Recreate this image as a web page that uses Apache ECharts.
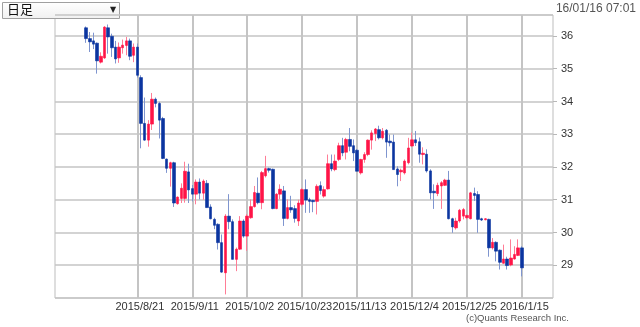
<!DOCTYPE html>
<html>
<head>
<meta charset="utf-8">
<script src="https://cdn.jsdelivr.net/npm/echarts/dist/echarts.min.js"></script>
<style>
html,body{margin:0;padding:0;background:#fff;}
#chart{width:640px;height:327px;}
</style>
</head>
<body>
<div id="chart"></div>
<script>
// trading-day categories (weekdays), with empty padding slots on both sides
const padLeft = ['2015/7/22','2015/7/23','2015/7/24','2015/7/27','2015/7/28','2015/7/29','2015/7/30','2015/7/31'];
const dates = [
 '2015/8/3','2015/8/4','2015/8/5','2015/8/6','2015/8/7','2015/8/10','2015/8/11','2015/8/12','2015/8/13','2015/8/14',
 '2015/8/17','2015/8/18','2015/8/19','2015/8/20','2015/8/21','2015/8/24','2015/8/25','2015/8/26','2015/8/27','2015/8/28','2015/8/31',
 '2015/9/1','2015/9/2','2015/9/3','2015/9/4','2015/9/7','2015/9/8','2015/9/9','2015/9/10','2015/9/11','2015/9/14',
 '2015/9/15','2015/9/16','2015/9/17','2015/9/18','2015/9/21','2015/9/22','2015/9/23','2015/9/24','2015/9/25','2015/9/28','2015/9/29','2015/9/30',
 '2015/10/1','2015/10/2','2015/10/5','2015/10/6','2015/10/7','2015/10/8','2015/10/9','2015/10/12','2015/10/13','2015/10/14','2015/10/15','2015/10/16',
 '2015/10/19','2015/10/20','2015/10/21','2015/10/22','2015/10/23','2015/10/26','2015/10/27','2015/10/28','2015/10/29','2015/10/30',
 '2015/11/2','2015/11/3','2015/11/4','2015/11/5','2015/11/6','2015/11/9','2015/11/10','2015/11/11','2015/11/12','2015/11/13',
 '2015/11/16','2015/11/17','2015/11/18','2015/11/19','2015/11/20','2015/11/23','2015/11/24','2015/11/25','2015/11/26','2015/11/27','2015/11/30',
 '2015/12/1','2015/12/2','2015/12/3','2015/12/4','2015/12/7','2015/12/8','2015/12/9','2015/12/10','2015/12/11','2015/12/14','2015/12/15',
 '2015/12/16','2015/12/17','2015/12/18','2015/12/21','2015/12/22','2015/12/23','2015/12/24','2015/12/25','2015/12/28','2015/12/29','2015/12/30','2015/12/31',
 '2016/1/1','2016/1/4','2016/1/5','2016/1/6','2016/1/7','2016/1/8','2016/1/11','2016/1/12','2016/1/13','2016/1/14','2016/1/15'
];
const padRight = ['2016/1/18','2016/1/19','2016/1/20','2016/1/21','2016/1/22','2016/1/25','2016/1/26','2016/1/27'];

const openVals = [
 36.25,35.92,35.85,35.78,35.20,35.33,36.25,35.99,35.66,35.33,35.64,35.71,35.85,35.41,35.66,
 34.73,33.33,32.82,33.31,34.07,33.94,33.48,32.24,31.96,32.13,30.88,31.04,31.04,31.85,31.34,
 31.17,31.54,31.20,31.50,30.78,30.40,30.25,29.69,28.77,30.50,30.33,29.18,29.49,30.35,29.89,
 30.45,30.79,31.20,30.91,31.73,31.95,31.93,30.73,31.17,31.27,30.43,30.76,30.73,30.35,30.86,
 31.31,31.00,30.98,30.95,31.43,31.11,31.33,32.10,31.92,32.23,32.65,32.45,32.84,32.65,32.51,
 31.82,32.23,32.38,32.82,33.02,33.14,32.89,33.12,32.79,32.76,31.94,31.85,31.82,32.13,32.64,
 32.83,32.77,32.38,32.39,31.88,31.26,31.19,31.42,31.44,31.60,30.42,30.14,30.35,30.50,30.45,
 30.42,31.19,31.16,30.42,30.39,30.40,29.53,29.70,29.46,29.06,29.19,29.01,29.19,29.30,29.53
];
const closeVals = [
 35.92,35.82,35.75,35.24,35.38,36.27,35.97,35.64,35.30,35.66,35.72,35.85,35.38,35.66,34.80,
 33.33,32.82,33.31,34.07,33.94,33.43,32.26,31.96,32.13,30.90,31.08,31.35,31.87,31.30,31.17,
 31.54,31.20,31.57,30.76,30.42,30.22,29.69,28.79,30.50,30.33,29.18,29.49,30.35,29.89,30.50,
 30.79,31.22,30.91,31.83,31.95,31.90,30.73,31.17,31.32,30.43,30.76,30.69,30.43,30.90,31.31,
 30.99,30.95,30.94,31.41,31.28,31.31,32.10,31.94,32.18,32.65,32.43,32.84,32.63,32.43,31.87,
 32.23,32.38,32.82,33.04,33.16,32.89,33.09,32.76,32.74,31.92,31.77,31.90,32.18,32.58,32.83,
 32.74,32.39,32.42,31.88,31.21,31.21,31.44,31.52,31.60,30.42,30.17,30.35,30.68,30.70,30.52,
 31.21,31.13,30.40,30.38,30.42,29.53,29.70,29.43,29.09,29.19,28.99,29.22,29.33,29.53,28.92
];
const lowVals = [
 35.79,35.51,35.60,34.85,35.16,35.30,35.46,35.36,35.16,35.18,35.46,35.41,35.26,35.20,34.73,
 32.57,32.80,32.62,33.13,33.82,32.87,32.24,31.82,31.40,30.78,30.85,30.90,30.91,30.90,30.95,
 30.86,31.01,31.00,30.76,30.40,30.10,29.48,28.77,28.11,30.10,29.18,28.82,29.47,29.84,29.44,
 30.42,30.76,30.86,30.71,31.68,31.83,30.71,30.71,31.01,30.20,30.40,30.60,30.30,30.20,30.80,
 30.60,30.60,30.62,30.55,31.16,31.06,31.31,31.87,31.87,32.18,32.33,32.23,32.48,32.18,31.87,
 31.77,32.13,32.33,32.53,32.79,32.84,32.84,32.28,32.63,31.92,31.41,31.57,31.77,32.08,32.62,
 32.64,32.13,32.08,31.83,31.01,30.72,31.11,30.72,31.42,30.40,29.99,30.09,30.30,30.40,30.40,
 30.40,30.96,29.99,30.35,30.37,29.26,29.48,29.12,28.87,29.05,28.87,28.97,29.17,29.28,28.66
];
const highVals = [
 36.29,36.12,36.10,35.80,35.50,36.30,36.35,36.07,35.85,35.80,35.89,35.97,35.92,35.77,35.77,
 34.80,34.12,33.43,34.26,34.12,33.99,33.53,32.26,32.16,32.16,31.10,31.50,32.16,32.10,31.45,
 31.62,31.65,31.62,31.60,30.86,30.45,30.28,29.94,30.56,31.17,30.40,29.54,30.50,30.40,30.56,
 31.01,31.42,31.68,31.88,32.34,31.98,31.95,31.20,31.47,31.42,31.01,31.12,30.83,31.00,31.36,
 31.62,31.06,31.00,31.47,31.56,31.41,32.38,32.38,32.38,32.74,32.89,32.89,33.19,32.84,32.55,
 32.25,32.45,32.84,33.12,33.19,33.26,33.19,33.16,32.99,32.99,32.02,31.95,32.23,32.89,33.05,
 33.10,32.90,32.60,32.54,31.93,31.47,31.52,31.57,31.64,31.88,30.45,30.45,30.72,30.75,30.55,
 31.24,31.37,31.26,30.45,30.44,30.42,29.83,29.73,29.48,29.63,29.26,29.79,29.58,29.79,29.58
];
const labelDates = ['2015/8/21','2015/9/11','2015/10/2','2015/10/23','2015/11/13','2015/12/4','2015/12/25','2016/1/15'];
const yTicks = {min: 28, max: 36.64, interval: 1};

const categories = padLeft.concat(dates, padRight);
const blanks = (n) => Array.from({length: n}, () => '-');
const wickData = blanks(padLeft.length).concat(
  dates.map((d, i) => [openVals[i], closeVals[i], lowVals[i], highVals[i]]), blanks(padRight.length));
const bodyData = blanks(padLeft.length).concat(
  dates.map((d, i) => [openVals[i], closeVals[i], Math.min(openVals[i], closeVals[i]), Math.max(openVals[i], closeVals[i])]), blanks(padRight.length));

const FONT = '"Liberation Sans", "Noto Sans CJK JP", sans-serif';
const chart = echarts.init(document.getElementById('chart'), null, {renderer: 'canvas'});
chart.setOption({
  animation: false,
  backgroundColor: '#fff',
  grid: {left: 55, right: 87, top: 15, bottom: 29, show: true, borderColor: '#bdbdbd', borderWidth: 1},
  xAxis: {
    type: 'category', data: categories, boundaryGap: true,
    axisLine: {show: false}, axisTick: {show: false}, splitLine: {show: false},
    axisLabel: {
      interval: (idx, val) => labelDates.indexOf(val) >= 0,
      margin: 3, fontSize: 11, color: '#333', fontFamily: FONT, hideOverlap: false,
      padding: [0, 0, 0, 5]
    }
  },
  yAxis: {
    type: 'value', position: 'right', min: yTicks.min, max: yTicks.max, interval: yTicks.interval, scale: true,
    axisLine: {show: false},
    axisTick: {show: true, length: 4, lineStyle: {color: '#b8b8b8'}},
    axisLabel: {margin: 8, fontSize: 11, color: '#333', fontFamily: FONT, showMinLabel: false, showMaxLabel: false},
    splitLine: {show: true, lineStyle: {color: '#c4c4c4', width: 1.5}}
  },
  series: [
    {
      type: 'candlestick', data: wickData, barWidth: 1, z: 2,
      itemStyle: {color: '#ff7d96', color0: '#7f95cf', borderColor: '#ff7d96', borderColor0: '#7f95cf', borderWidth: 1},
      markLine: {
        silent: true, symbol: 'none', z: 1, animation: false,
        label: {show: false},
        lineStyle: {color: '#c4c4c4', width: 2, type: 'solid'},
        data: labelDates.map(d => ({xAxis: d}))
      }
    },
    {
      type: 'candlestick', data: bodyData, barWidth: 3, z: 3,
      itemStyle: {color: '#ff1447', color0: '#0b35a0', borderColor: '#ff1447', borderColor0: '#0b35a0', borderWidth: 0.6}
    }
  ],
  graphic: [
    {type: 'rect', shape: {x: 2.5, y: 2.5, width: 117, height: 16},
     style: {fill: {type: 'linear', x: 0, y: 0, x2: 0, y2: 1, colorStops: [{offset: 0, color: '#ffffff'}, {offset: 1, color: '#f0f0f0'}]}, stroke: '#a0a0a0', lineWidth: 1}},
    {type: 'text', left: 7, top: 3, style: {text: '日足', font: '13px "Noto Sans CJK JP", sans-serif', fill: '#111'}},
    {type: 'text', left: 110, top: 6, style: {text: '▼', font: '8px "DejaVu Sans", sans-serif', fill: '#222'}},
    {type: 'text', right: 4, top: 3, style: {text: '16/01/16 07:01', font: '12px ' + FONT, fill: '#555'}},
    {type: 'text', right: 71, top: 314, style: {text: '(c)Quants Research Inc.', font: '9.5px ' + FONT, fill: '#555'}}
  ]
});
</script>
</body>
</html>
